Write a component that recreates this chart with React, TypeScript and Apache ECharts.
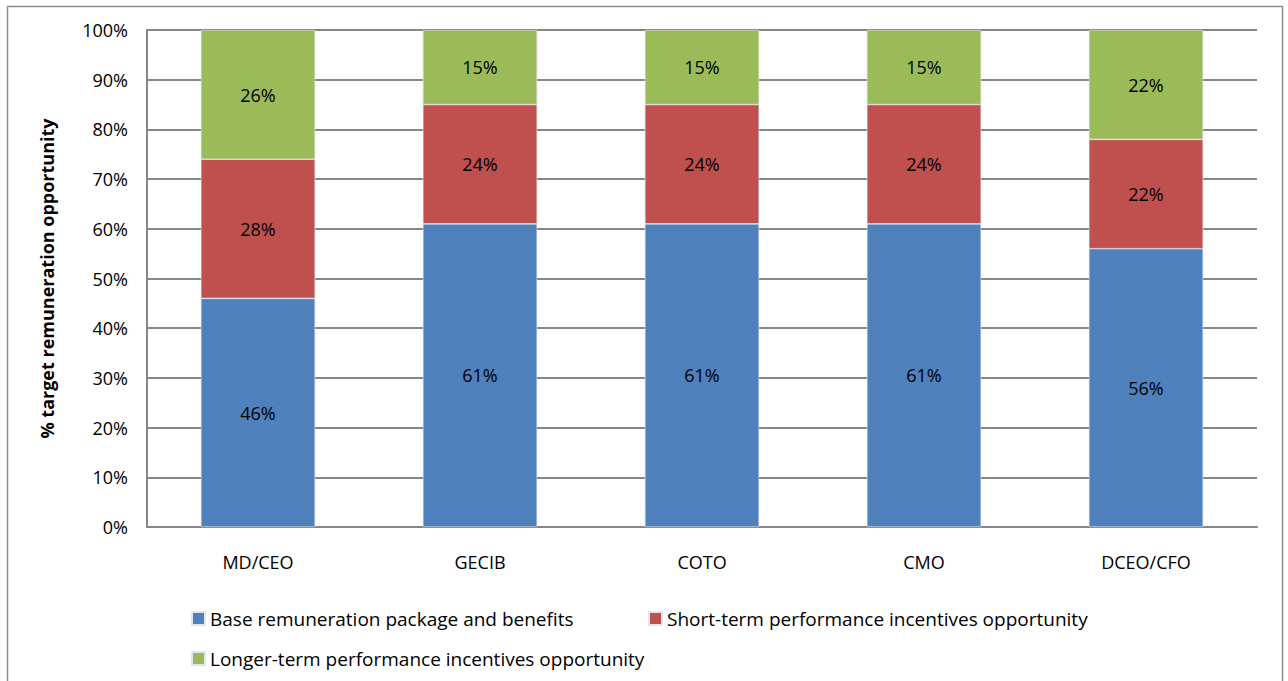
import React, { useEffect, useRef } from "react";
import * as echarts from "echarts";

const categories = ["MD/CEO", "GECIB", "COTO", "CMO", "DCEO/CFO"];
const seriesNames = [
  "Base remuneration package and benefits",
  "Short-term performance incentives opportunity",
  "Longer-term performance incentives opportunity",
];
const baseValues = [46, 61, 61, 61, 56];
const shortTermValues = [28, 24, 24, 24, 22];
const longTermValues = [26, 15, 15, 15, 22];
const colors = ["#4F81BD", "#C0504D", "#9BBB59"];
const yTicks = [0, 10, 20, 30, 40, 50, 60, 70, 80, 90, 100];

const FONT = "'Open Sans', Lato, sans-serif";

export default function App() {
  const ref = useRef<HTMLDivElement>(null);
  useEffect(() => {
    if (!ref.current) return;
    const chart = echarts.init(ref.current, null, { renderer: "svg" });
    const values = [baseValues, shortTermValues, longTermValues];
    const legendText = { fontSize: 19, color: "#000", fontFamily: FONT };
    chart.setOption({
      animation: false,
      backgroundColor: "#ffffff",
      textStyle: { fontFamily: FONT },
      graphic: [
        {
          type: "rect",
          shape: { x: 7.5, y: 6.5, width: 1275, height: 700 },
          style: { fill: "none", stroke: "#8c8c8c", lineWidth: 1.5 },
          silent: true,
        },
      ],
      grid: { left: 147, right: 31, top: 30, bottom: 154 },
      legend: [
        {
          data: [seriesNames[0]],
          left: 186,
          top: 604,
          itemWidth: 13,
          itemHeight: 13,
          icon: "rect",
          textStyle: legendText,
        },
        {
          data: [seriesNames[1]],
          left: 643,
          top: 604,
          itemWidth: 13,
          itemHeight: 13,
          icon: "rect",
          textStyle: legendText,
        },
        {
          data: [seriesNames[2]],
          left: 186,
          top: 644,
          itemWidth: 13,
          itemHeight: 13,
          icon: "rect",
          textStyle: legendText,
        },
      ],
      xAxis: {
        type: "category",
        data: categories,
        axisLine: { show: true, lineStyle: { color: "#868686", width: 2 } },
        axisTick: { show: false },
        axisLabel: { color: "#000", fontSize: 18, margin: 26, fontFamily: FONT },
      },
      yAxis: {
        type: "value",
        min: yTicks[0],
        max: yTicks[yTicks.length - 1],
        interval: 10,
        name: "% target remuneration opportunity",
        nameLocation: "middle",
        nameGap: 91,
        nameRotate: 90,
        nameTextStyle: { fontSize: 18, fontWeight: "bold", color: "#000", fontFamily: FONT },
        axisLine: { show: true, lineStyle: { color: "#868686", width: 2 } },
        axisTick: { show: false },
        axisLabel: {
          color: "#000",
          fontSize: 18,
          margin: 19,
          fontFamily: FONT,
          formatter: (v: number) => v + "%",
        },
        splitLine: { show: true, lineStyle: { color: "#868686", width: 2 } },
      },
      series: seriesNames.map((name, i) => ({
        name,
        type: "bar",
        stack: "total",
        barWidth: "51.5%",
        data: values[i],
        itemStyle: { color: colors[i], borderColor: "#dfe6f0", borderWidth: 0.6 },
        label: {
          show: true,
          position: "inside",
          color: "#000",
          fontSize: 18,
          fontFamily: FONT,
          formatter: (p: any) => p.value + "%",
        },
      })),
    });
    return () => chart.dispose();
  }, []);
  return (
    <div
      ref={ref}
      style={{ position: "fixed", left: 0, top: 0, width: 1288, height: 681 }}
    />
  );
}
